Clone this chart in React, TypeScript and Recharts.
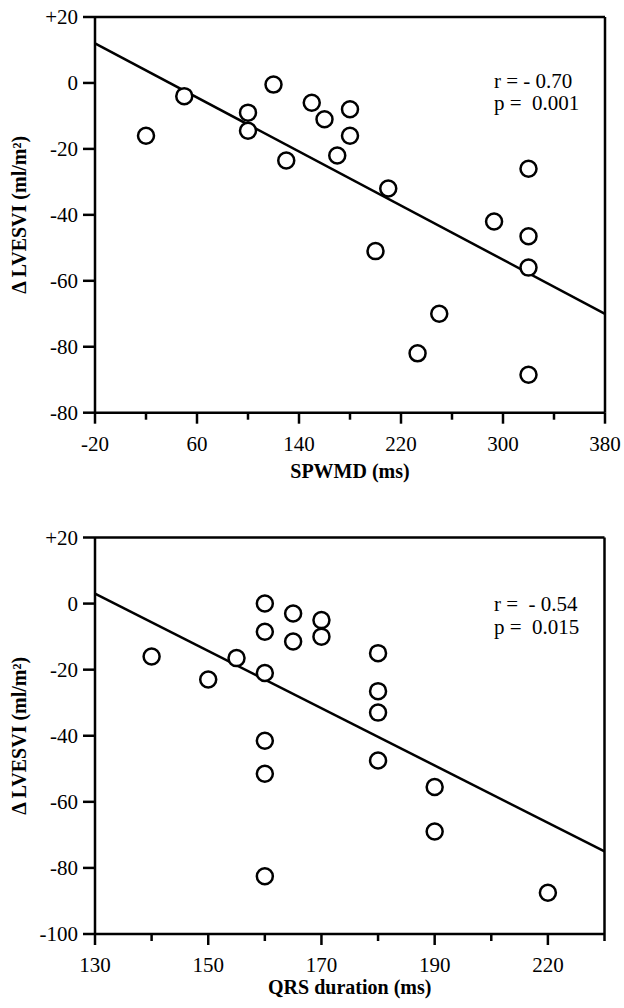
import React from "react";
import { ScatterChart, Scatter, XAxis, YAxis, ReferenceLine, Customized } from "recharts";

// top panel: SPWMD vs change in LVESVI
const spwmdX = [20, 50, 100, 100, 120, 130, 150, 160, 180, 180, 170, 210, 200, 293, 320, 320, 320, 250, 233, 320];
const spwmdDelta = [-16, -4, -9, -14.5, -0.5, -23.5, -6, -11, -8, -16, -22, -32, -51, -42, -26, -46.5, -56, -70, -82, -88.5];
const spwmdFit = [{ x: -20, y: 12 }, { x: 380, y: -70 }];
const spwmdTicks = [-20, 20, 60, 100, 140, 180, 220, 260, 300, 340, 380];
const spwmdMajor = [-20, 60, 140, 220, 300, 380];
const spwmdLabels = ["-20", "60", "140", "220", "300", "380"];
const topYTicks = [20, 0, -20, -40, -60, -80, -100];
const topYLabels = ["+20", "0", "-20", "-40", "-60", "-80", "-80"]; // as printed

// bottom panel: QRS duration vs change in LVESVI
const qrsX = [140, 150, 155, 160, 160, 160, 160, 160, 160, 165, 165, 170, 170, 180, 180, 180, 180, 190, 190, 210];
const qrsDelta = [-16, -23, -16.5, 0, -8.5, -21, -41.5, -51.5, -82.5, -3, -11.5, -5, -10, -15, -26.5, -33, -47.5, -55.5, -69, -87.5];
const qrsFit = [{ x: 130, y: 3 }, { x: 220, y: -75 }];
const qrsTicks = [130, 140, 150, 160, 170, 180, 190, 200, 210, 220];
const qrsMajor = [130, 150, 170, 190, 210];
const qrsLabels = ["130", "150", "170", "190", "220"]; // as printed
const bottomYTicks = [20, 0, -20, -40, -60, -80, -100];
const bottomYLabels = ["+20", "0", "-20", "-40", "-60", "-80", "-100"];

const FONT = "'Liberation Serif', 'Times New Roman', serif";

const toPoints = (xs: number[], ys: number[]) => xs.map((x, i) => ({ x, y: ys[i] }));

const Ring = (props: any) => (
  <circle cx={props.cx} cy={props.cy} r={8} fill="#fff" stroke="#000" strokeWidth={2.5} />
);

function XTick({ x, y, payload, majors, labels }: any) {
  const i = majors.indexOf(payload.value);
  return (
    <g>
      <line x1={x} y1={y} x2={x} y2={y + (i >= 0 ? 11 : 7)} stroke="#000" strokeWidth={2.5} />
      {i >= 0 && (
        <text x={x} y={y + 38} textAnchor="middle" fontSize={21} fontFamily={FONT} fill="#000">
          {labels[i]}
        </text>
      )}
    </g>
  );
}

function YTick({ x, y, payload, values, labels }: any) {
  const i = values.indexOf(payload.value);
  return (
    <g>
      <line x1={x - 12} y1={y} x2={x} y2={y} stroke="#000" strokeWidth={2.5} />
      <text x={x - 17} y={y + 7} textAnchor="end" fontSize={21} fontFamily={FONT} fill="#000">
        {labels[i]}
      </text>
    </g>
  );
}

function Stats({ x, y1, y2, r, p }: any) {
  return (
    <g fontFamily={FONT} fontSize={21} fill="#000">
      <text x={x} y={y1} xmlSpace="preserve" style={{ whiteSpace: "pre" }}>{r}</text>
      <text x={x} y={y2} xmlSpace="preserve" style={{ whiteSpace: "pre" }}>{p}</text>
    </g>
  );
}

const axisLine = { stroke: "#000", strokeWidth: 2.5 };

export default function App() {
  const topData = toPoints(spwmdX, spwmdDelta);
  const bottomData = toPoints(qrsX, qrsDelta);

  return (
    <div style={{ position: "relative", width: 624, height: 1008, background: "#fff" }}>
      <style>{"body{margin:0}"}</style>

      <div style={{ position: "absolute", left: 0, top: 0 }}>
        <ScatterChart width={624} height={500} margin={{ top: 17, right: 19, left: 0, bottom: 0 }}>
          <XAxis
            type="number"
            dataKey="x"
            domain={[-20, 380]}
            ticks={spwmdTicks}
            height={87.3}
            tickSize={0}
            tickMargin={0}
            tickLine={false}
            axisLine={axisLine}
            tick={(p: any) => <XTick {...p} majors={spwmdMajor} labels={spwmdLabels} />}
            label={{ value: "SPWMD (ms)", position: "insideBottom", offset: 22, fontFamily: FONT, fontSize: 20, fontWeight: "bold", fill: "#000" }}
          />
          <YAxis
            type="number"
            dataKey="y"
            domain={[-100, 20]}
            ticks={topYTicks}
            width={95}
            tickSize={0}
            tickMargin={0}
            tickLine={false}
            axisLine={axisLine}
            tick={(p: any) => <YTick {...p} values={topYTicks} labels={topYLabels} />}
            label={{ value: "Δ LVESVI (ml/m²)", position: "center", angle: -90, dx: -29, fontFamily: FONT, fontSize: 20, fontWeight: "bold", fill: "#000" }}
          />
          <ReferenceLine y={20} stroke="#000" strokeWidth={2.5} />
          <ReferenceLine x={380} stroke="#000" strokeWidth={2.5} />
          <ReferenceLine segment={spwmdFit} stroke="#000" strokeWidth={2.5} ifOverflow="visible" />
          <Scatter data={topData} shape={Ring} isAnimationActive={false} />
          <Customized component={<Stats x={494} y1={88} y2={110} r="r = - 0.70" p="p =  0.001" />} />
        </ScatterChart>
      </div>

      <div style={{ position: "absolute", left: 0, top: 500 }}>
        <ScatterChart width={624} height={508} margin={{ top: 37.5, right: 19.5, left: 0, bottom: 0 }}>
          <XAxis
            type="number"
            dataKey="x"
            domain={[130, 220]}
            ticks={qrsTicks}
            height={74}
            tickSize={0}
            tickMargin={0}
            tickLine={false}
            axisLine={axisLine}
            tick={(p: any) => <XTick {...p} majors={qrsMajor} labels={qrsLabels} />}
            label={{ value: "QRS duration (ms)", position: "insideBottom", offset: 14, fontFamily: FONT, fontSize: 20, fontWeight: "bold", fill: "#000" }}
          />
          <YAxis
            type="number"
            dataKey="y"
            domain={[-100, 20]}
            ticks={bottomYTicks}
            width={95}
            tickSize={0}
            tickMargin={0}
            tickLine={false}
            axisLine={axisLine}
            tick={(p: any) => <YTick {...p} values={bottomYTicks} labels={bottomYLabels} />}
            label={{ value: "Δ LVESVI (ml/m²)", position: "center", angle: -90, dx: -29, fontFamily: FONT, fontSize: 20, fontWeight: "bold", fill: "#000" }}
          />
          <ReferenceLine y={20} stroke="#000" strokeWidth={2.5} />
          <ReferenceLine x={220} stroke="#000" strokeWidth={2.5} />
          <ReferenceLine segment={qrsFit} stroke="#000" strokeWidth={2.5} ifOverflow="visible" />
          <Scatter data={bottomData} shape={Ring} isAnimationActive={false} />
          <Customized component={<Stats x={494} y1={111} y2={134} r="r =  - 0.54" p="p =  0.015" />} />
        </ScatterChart>
      </div>
    </div>
  );
}
